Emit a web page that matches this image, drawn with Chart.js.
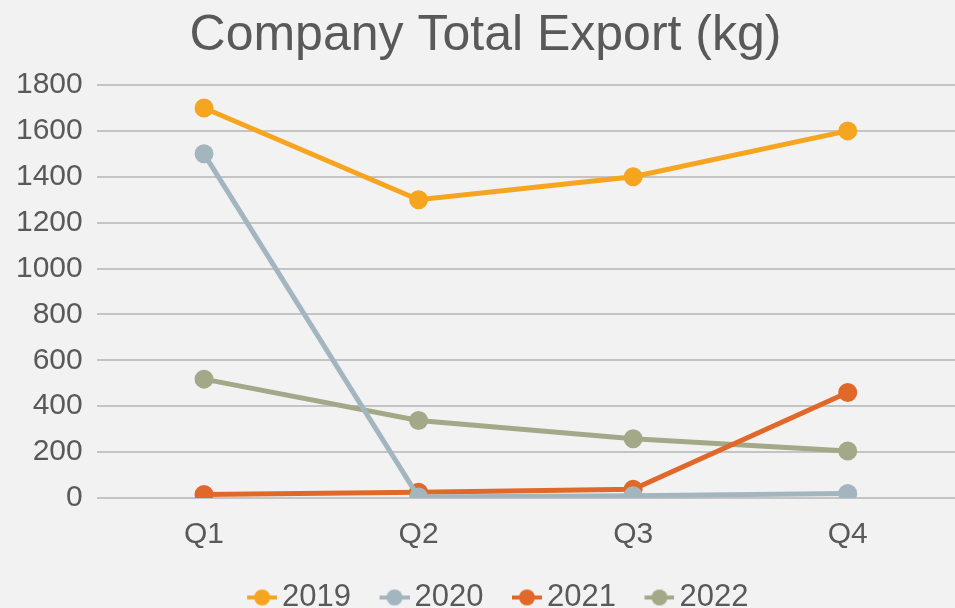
<!DOCTYPE html>
<html><head><meta charset="utf-8">
<script src="https://cdn.jsdelivr.net/npm/chart.js@4"></script>
<style>html,body{margin:0;padding:0;background:#f2f2f2;}#wrap{width:955px;height:608px;}</style>
</head><body><div id="wrap"><canvas id="c" width="955" height="608"></canvas></div>
<script>
const categories = ['Q1','Q2','Q3','Q4'];
const seriesNames = ['2019','2020','2021','2022'];
const values2019 = [1700, 1300, 1400, 1600];
const values2020 = [1500, 4, 10, 20];
const values2021 = [15, 25, 38, 460];
const values2022 = [518, 338, 258, 205];
const yTicks = [0,200,400,600,800,1000,1200,1400,1600,1800];
const colors = ['#F5A51F','#A3B5BE','#E0692A','#A3A888'];
const allValues = [values2019, values2020, values2021, values2022];

function legendIcon(color){
  const cv = document.createElement('canvas');
  cv.width = 51; cv.height = 18;
  const g = cv.getContext('2d');
  g.strokeStyle = color; g.lineWidth = 4;
  g.beginPath(); g.moveTo(21,9); g.lineTo(51,9); g.stroke();
  g.fillStyle = color;
  g.beginPath(); g.arc(36,9,8,0,Math.PI*2); g.fill();
  return cv;
}

const legendShift = {id:'legendShift', afterLayout(chart){
  const l = chart.legend; if (l) { l.left += 7; l.right += 7; }
}};

const datasets = seriesNames.map((n,i)=>({
  label:n, data:allValues[i], borderColor:colors[i], backgroundColor:colors[i],
  borderWidth:5, pointRadius:7, pointHoverRadius:7, pointBackgroundColor:colors[i],
  pointBorderColor:colors[i], tension:0
}));

new Chart(document.getElementById('c'), {
  type:'line',
  data:{labels:categories, datasets},
  plugins:[legendShift],
  options:{
    responsive:false, animation:false,
    layout:{autoPadding:false, padding:{left:2,right:-14,top:6,bottom:-15}},
    plugins:{
      title:{display:true,text:'Company Total Export (kg)',color:'#595959',
        font:{family:'Liberation Sans, Arial, sans-serif',size:50,weight:'normal'},padding:{top:0,bottom:19}},
      legend:{position:'bottom',
        labels:{color:'#595959',font:{family:'Liberation Sans, Arial, sans-serif',size:31},
          usePointStyle:true,pointStyleWidth:30,padding:18,
          generateLabels:(chart)=>chart.data.datasets.map((d,i)=>({
            text:d.label, pointStyle:legendIcon(colors[i]), fillStyle:colors[i], strokeStyle:colors[i],
            fontColor:'#595959', lineWidth:0, hidden:false, datasetIndex:i
          }))
        }},
      tooltip:{enabled:false}
    },
    scales:{
      x:{offset:true, grid:{display:false}, border:{display:false},
        ticks:{color:'#595959',font:{family:'Liberation Sans, Arial, sans-serif',size:30},padding:11}},
      y:{min:0,max:1800,
        afterBuildTicks:(ax)=>{ax.ticks = yTicks.map(v=>({value:v}));},
        grid:{color:'#c4c4c4',lineWidth:2,drawTicks:false}, border:{display:false},
        ticks:{color:'#595959',font:{family:'Liberation Sans, Arial, sans-serif',size:30},padding:14,
          callback:(v)=>String(v)}}
    }
  }
});
</script></body></html>
